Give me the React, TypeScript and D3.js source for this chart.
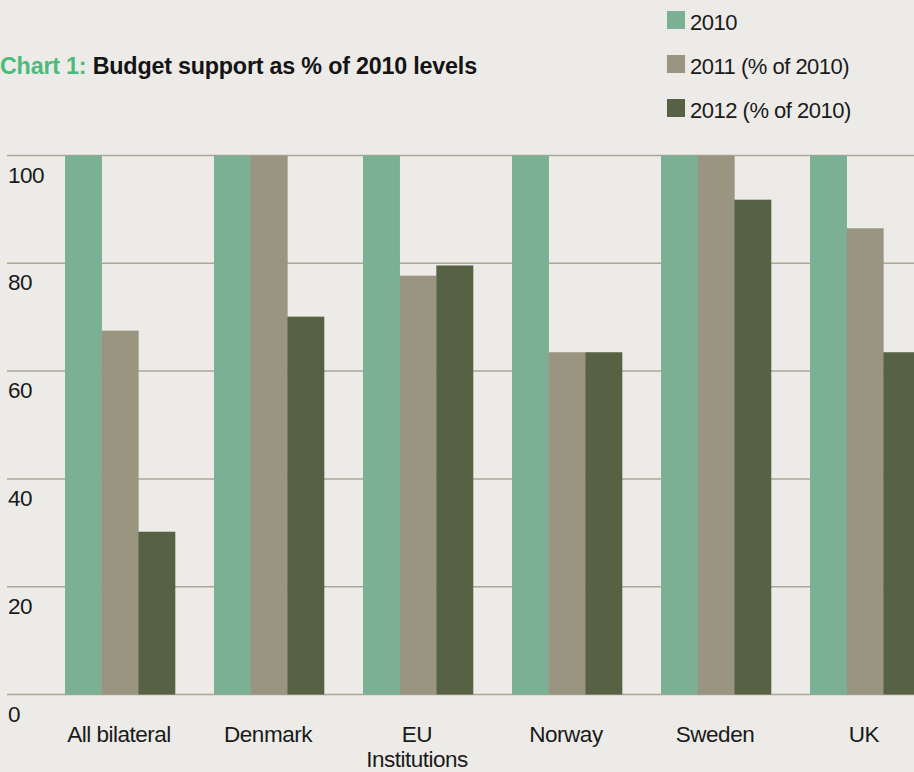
import React from "react";
import * as d3 from "d3";

const categories = ["All bilateral", "Denmark", "EU\nInstitutions", "Norway", "Sweden", "UK"];
const seriesNames = ["2010", "2011 (% of 2010)", "2012 (% of 2010)"];
const values2010 = [100, 100, 100, 100, 100, 100];
const values2011 = [67.5, 100, 77.7, 63.5, 100, 86.5];
const values2012 = [30.2, 70.1, 79.6, 63.5, 91.8, 63.5];
const yTicks = [0, 20, 40, 60, 80, 100];
const colors = ["#7cb094", "#9a9580", "#566243"];

const W = 914;
const H = 772;
const FONT = "'Liberation Sans', Arial, Helvetica, sans-serif";

export default function App() {
  const series = [values2010, values2011, values2012];
  const y = d3.scaleLinear().domain([0, 100]).range([694.5, 155.5]);
  const x0 = d3
    .scalePoint<string>()
    .domain(categories)
    .range([65, 65 + 149 * (categories.length - 1)]);
  const x1 = d3.scaleBand<number>().domain([0, 1, 2]).range([0, 110]);

  return (
    <div style={{ position: "absolute", left: 0, top: 0, width: W, height: H }}>
      <svg width={W} height={H} style={{ display: "block", background: "#ecebe7" }} fontFamily={FONT}>
        <rect x={0} y={0} width={W} height={H} fill="#ecebe7" />
        {/* title */}
        <text x={0} y={74} fontSize={23.3} fontWeight="bold" letterSpacing={-0.2}>
          <tspan fill="#4dba7c">Chart 1: </tspan>
          <tspan fill="#141414">Budget support as % of 2010 levels</tspan>
        </text>
        {/* legend */}
        {seriesNames.map((s, i) => (
          <g key={s} transform={`translate(667, ${11 + i * 44})`}>
            <rect x={0} y={0} width={18} height={18} fill={colors[i]} />
            <text x={23} y={19} fontSize={22} fill="#1a1a1a" letterSpacing={-0.5}>
              {s}
            </text>
          </g>
        ))}
        {/* grid */}
        {yTicks.map((t) => (
          <g key={t}>
            <line x1={7} x2={W} y1={y(t)} y2={y(t)} stroke="#aaa796" strokeWidth={1.5} />
            <text x={8} y={y(t) + 27} fontSize={22.5} fill="#1a1a1a" letterSpacing={-0.5}>
              {t}
            </text>
          </g>
        ))}
        {/* bars */}
        {categories.map((c, ci) => (
          <g key={c} transform={`translate(${x0(c)},0)`}>
            {series.map((vals, si) => {
              const v = vals[ci];
              return (
                <rect
                  key={si}
                  x={x1(si)}
                  y={y(v)}
                  width={x1.bandwidth() + 0.3}
                  height={y(0) - y(v)}
                  fill={colors[si]}
                />
              );
            })}
            {c.split("\n").map((line, li) => (
              <text
                key={li}
                x={54}
                y={742 + li * 25}
                textAnchor="middle"
                fontSize={22.5}
                fill="#1a1a1a"
                letterSpacing={-0.5}
              >
                {line}
              </text>
            ))}
          </g>
        ))}
      </svg>
    </div>
  );
}
